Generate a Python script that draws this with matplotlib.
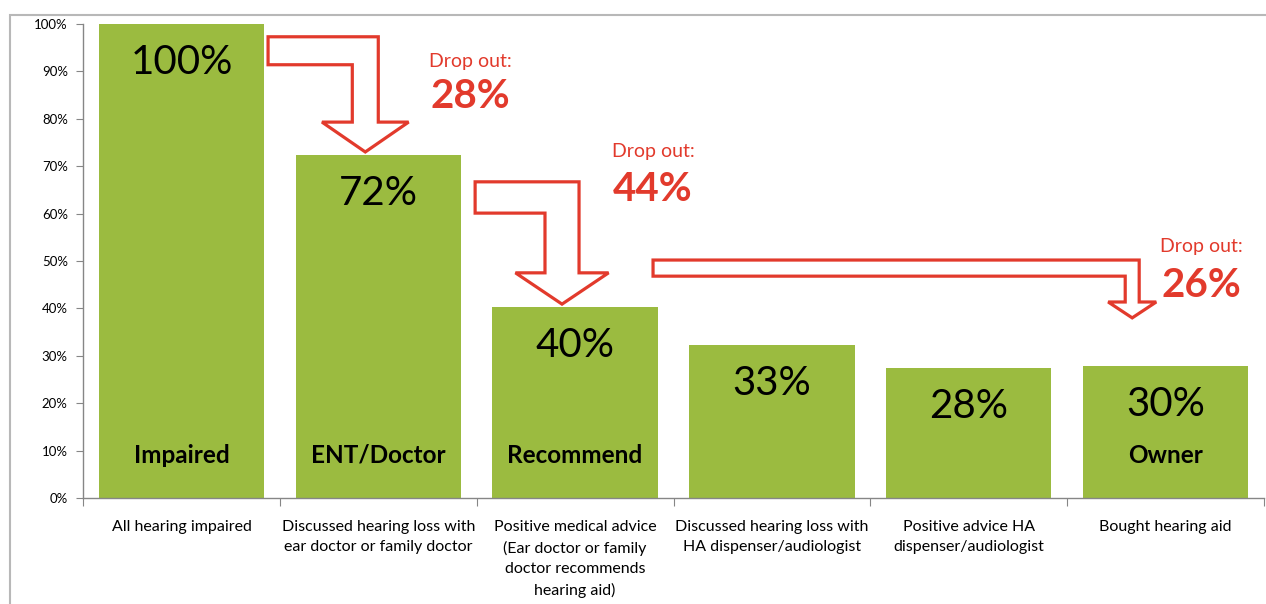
import matplotlib
matplotlib.use("Agg")
import matplotlib.pyplot as plt
from matplotlib.patches import Polygon, Rectangle
from matplotlib.ticker import FixedLocator, PercentFormatter

# --- data ---
categories = [
    "All hearing impaired",
    "Discussed hearing loss with\near doctor or family doctor",
    "Positive medical advice\n(Ear doctor or family\ndoctor recommends\nhearing aid)",
    "Discussed hearing loss with\nHA dispenser/audiologist",
    "Positive advice HA\ndispenser/audiologist",
    "Bought hearing aid",
]
share = [1.00, 0.724, 0.403, 0.323, 0.274, 0.279]
share_labels = ["100%", "72%", "40%", "33%", "28%", "30%"]
stage_names = ["Impaired", "ENT/Doctor", "Recommend", "", "", "Owner"]
dropouts = ["28%", "44%", "26%"]

GREEN = "#9bbb40"
RED = "#e23a2c"
FONT = ["Lato", "DejaVu Sans"]

plt.rcParams["font.family"] = FONT

fig = plt.figure(figsize=(12.66, 6.04), dpi=100)
ax = fig.add_axes([0.0656, 0.1755, 0.9328, 0.7848])

x = list(range(len(categories)))
ax.bar(x, share, width=0.84, color=GREEN, zorder=2)

for xi, v, lab in zip(x, share, share_labels):
    ax.text(xi, v - 0.081, lab, ha="center", va="center", fontsize=29, color="black")
for xi, name in zip(x, stage_names):
    if name:
        ax.text(xi, 0.0907, name, ha="center", va="center", fontsize=17.5,
                fontweight="bold", color="black")


def elbow_arrow(x_start, x_outer, shaft_w, y_top, band_h, head_w, y_head, y_tip):
    """Hollow block arrow: horizontal band to the right, then down."""
    x_inner = x_outer - shaft_w
    xc = (x_outer + x_inner) / 2
    pts = [
        (x_start, y_top), (x_outer, y_top), (x_outer, y_head),
        (xc + head_w / 2, y_head), (xc, y_tip), (xc - head_w / 2, y_head),
        (x_inner, y_head), (x_inner, y_top - band_h), (x_start, y_top - band_h),
    ]
    ax.add_patch(Polygon(pts, closed=True, facecolor="white", edgecolor=RED,
                         lw=2.3, zorder=3, clip_on=False))


# arrows placed relative to the bars they connect
elbow_arrow(0.44, 1.0, 0.132, 0.973, 0.059, 0.44, 0.793, 0.73)
elbow_arrow(1.492, 2.02, 0.173, 0.667, 0.066, 0.473, 0.475, 0.409)
elbow_arrow(2.396, 4.866, 0.071, 0.502, 0.034, 0.244, 0.4135, 0.38)

drop_pos = [(1.466, 0.92, 0.846), (2.396, 0.73, 0.65), (5.18, 0.53, 0.449)]
for (dx, y1, y2), pct in zip(drop_pos, dropouts):
    ax.text(dx, y1, "Drop out:", ha="center", va="center", fontsize=14, color=RED)
    ax.text(dx, y2, pct, ha="center", va="center", fontsize=29, fontweight="bold",
            color=RED)

ax.set_xlim(-0.5, len(categories) - 0.5)
ax.set_ylim(0, 1.0)
ax.yaxis.set_major_locator(FixedLocator([i / 10 for i in range(11)]))
ax.yaxis.set_major_formatter(PercentFormatter(1.0, decimals=0))
ax.tick_params(axis="y", direction="out", length=5, color="#868686",
               labelsize=9.5, pad=6)

ax.xaxis.set_major_locator(FixedLocator([i - 0.5 for i in range(len(categories) + 1)]))
ax.xaxis.set_minor_locator(FixedLocator(x))
ax.set_xticklabels([], minor=False)
ax.set_xticklabels(categories, minor=True, fontsize=11.5, linespacing=1.55)
ax.tick_params(axis="x", which="major", direction="out", length=6, color="#868686")
ax.tick_params(axis="x", which="minor", length=0, pad=16)

for side in ("top", "right"):
    ax.spines[side].set_visible(False)
for side in ("left", "bottom"):
    ax.spines[side].set_color("#868686")
    ax.spines[side].set_linewidth(1.0)

# light outer frame of the original slide
frame = Rectangle((10 / 1266, -0.05), 1.1, (604 - 15) / 604 + 0.05,
                  transform=fig.transFigure, fill=False, edgecolor="#b8b8b8", lw=1.5)
fig.patches.append(frame)

fig.savefig("out.png", dpi=100)
